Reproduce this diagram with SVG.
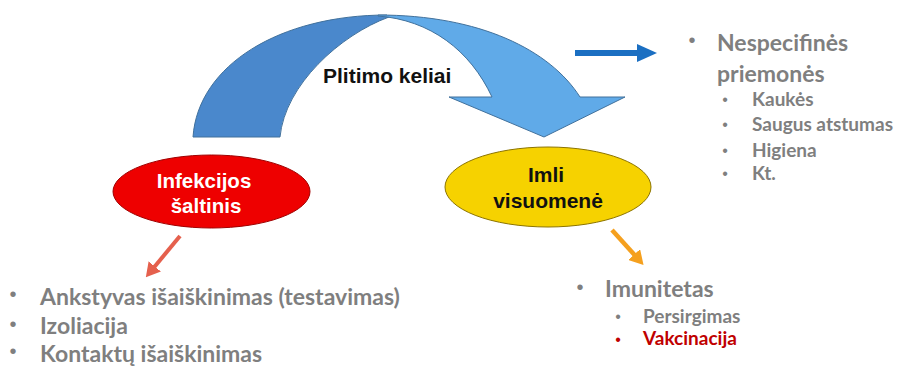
<svg xmlns="http://www.w3.org/2000/svg" width="898" height="367" viewBox="0 0 898 367">
<defs>
<style>
.lbl{font-family:"Liberation Sans",Arial,sans-serif;font-weight:bold;}
.l1{font-family:Lato,"Liberation Sans",sans-serif;font-weight:bold;font-size:23px;fill:#7f7f7f;}
.l2{font-family:Lato,"Liberation Sans",sans-serif;font-weight:bold;font-size:19px;fill:#7f7f7f;}
.b1{font-family:"Liberation Sans",Arial,sans-serif;font-size:20px;fill:#7f7f7f;text-anchor:middle;}
.b2{font-family:"Liberation Sans",Arial,sans-serif;font-size:16px;fill:#7f7f7f;text-anchor:middle;}
.red{fill:#c00000;}
.conn{fill:none;stroke-linecap:butt;}
</style>
<marker id="headBlue" markerUnits="userSpaceOnUse" markerWidth="20" markerHeight="18" refX="3" refY="9" orient="auto">
<path d="M0,0 L20,9 L0,18 Z" fill="#1b6fc2"/>
</marker>
<marker id="headRed" markerUnits="userSpaceOnUse" markerWidth="14" markerHeight="16" refX="2" refY="8" orient="auto">
<path d="M0,0 L14,8 L0,16 Z" fill="#e5604d"/>
</marker>
<marker id="headOrange" markerUnits="userSpaceOnUse" markerWidth="14" markerHeight="16" refX="2" refY="8" orient="auto">
<path d="M0,0 L14,8 L0,16 Z" fill="#f5a01e"/>
</marker>
</defs>
<rect width="898" height="367" fill="#ffffff"/>

<g id="plitimo-keliai">
<path d="M193,137 C198,65 280,15 387,15 L389,17 C340,35 285,85 280,137 Z" fill="#4a88cc" stroke="#41719c" stroke-width="1"/>
<path d="M378,15 C480,15 550,50 580,97 L625,97 L544,137 L449,97 L492,97 C470,50 430,20 378,16 Z" fill="#60aae8" stroke="#41719c" stroke-width="1"/>
<text class="lbl" x="323" y="83" font-size="21" fill="#111">Plitimo keliai</text>
</g>

<g id="infekcijos-saltinis">
<ellipse cx="211.5" cy="191.5" rx="98.5" ry="36.5" fill="#ee0000" stroke="#a00000" stroke-width="1"/>
<text class="lbl" font-size="20.5" fill="#ffffff" text-anchor="middle"><tspan x="204" y="188">Infekcijos</tspan><tspan x="206" y="213">šaltinis</tspan></text>
</g>

<g id="imli-visuomene">
<ellipse cx="548" cy="187" rx="103" ry="40" fill="#f6d200" stroke="#8c7400" stroke-width="1"/>
<text class="lbl" font-size="21" fill="#111" text-anchor="middle"><tspan x="546" y="182">Imli</tspan><tspan x="548" y="208">visuomenė</tspan></text>
</g>

<g id="nespecifines-priemones">
<text class="b1" x="692" y="47">•</text>
<text class="l1" x="717" y="51">Nespecifinės</text>
<text class="l1" x="717" y="82">priemonės</text>
<text class="b2" x="725" y="105">•</text>
<text class="l2" x="752" y="106">Kaukės</text>
<text class="b2" x="725" y="130">•</text>
<text class="l2" x="752" y="131">Saugus atstumas</text>
<text class="b2" x="725" y="155.5">•</text>
<text class="l2" x="752" y="156.5">Higiena</text>
<text class="b2" x="725" y="179">•</text>
<text class="l2" x="752" y="180">Kt.</text>
</g>

<g id="saltinio-priemones">
<text class="b1" x="13" y="301">•</text>
<text class="l1" x="40" y="305">Ankstyvas išaiškinimas (testavimas)</text>
<text class="b1" x="13" y="331">•</text>
<text class="l1" x="40" y="334">Izoliacija</text>
<text class="b1" x="13" y="358">•</text>
<text class="l1" x="40" y="362">Kontaktų išaiškinimas</text>
</g>

<g id="imunitetas">
<text class="b1" x="580" y="294">•</text>
<text class="l1" x="605" y="297">Imunitetas</text>
<text class="b2" x="618" y="322">•</text>
<text class="l2" x="643" y="323">Persirgimas</text>
<text class="b2 red" x="618" y="345">•</text>
<text class="l2 red" x="643" y="345">Vakcinacija</text>
</g>

<g id="connectors">
<path class="conn" d="M575,53 L640,53" stroke="#1b6fc2" stroke-width="6" marker-end="url(#headBlue)"/>
<path class="conn" d="M180,236 L153.5,268" stroke="#e5604d" stroke-width="4" marker-end="url(#headRed)"/>
<path class="conn" d="M612,230 L635.5,256" stroke="#f5a01e" stroke-width="4.5" marker-end="url(#headOrange)"/>
</g>
</svg>
